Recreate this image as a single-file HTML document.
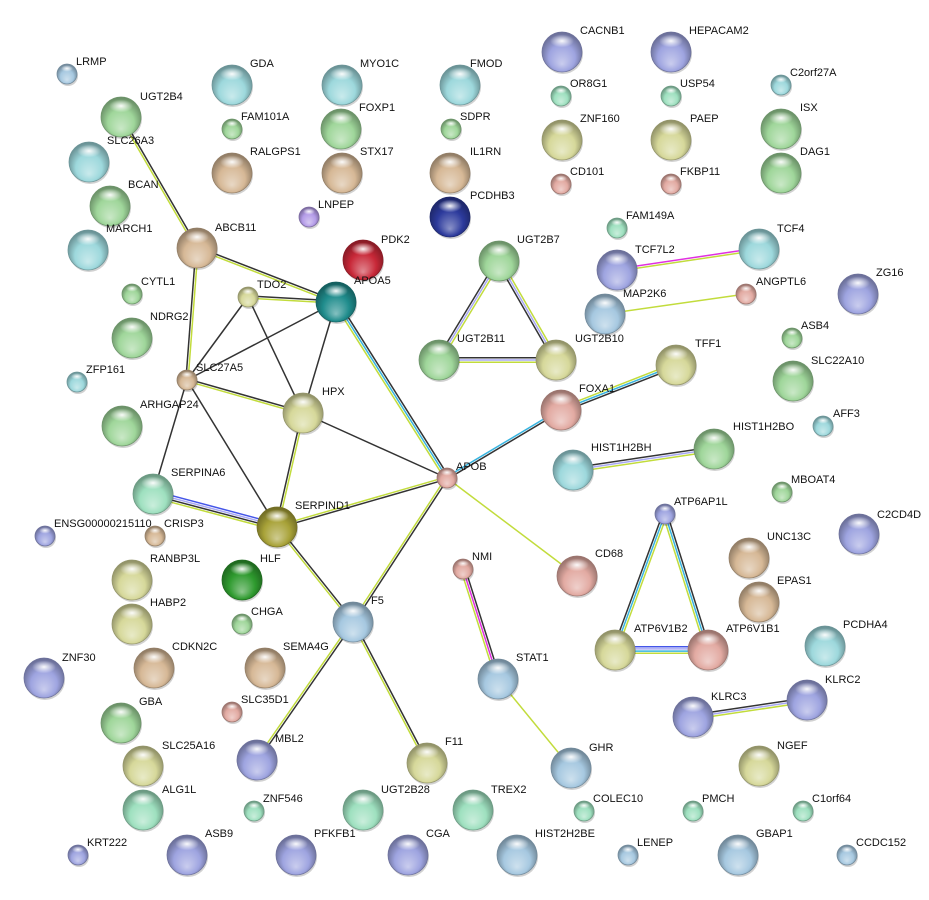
<!DOCTYPE html>
<html><head><meta charset="utf-8"><style>
html,body{margin:0;padding:0;background:#fff;}
svg{display:block;}
text{font-family:"Liberation Sans",Arial,sans-serif;font-size:11px;fill:#111;}
</style></head><body>
<svg id="s" width="929" height="900" viewBox="0 0 929 900" xmlns="http://www.w3.org/2000/svg">
<defs id="d"></defs>
<g id="edges"></g>
<g id="nodes"></g>
<g id="labels">
<text x="76" y="65">LRMP</text>
<text x="140" y="100">UGT2B4</text>
<text x="107" y="144">SLC26A3</text>
<text x="128" y="188">BCAN</text>
<text x="106" y="232">MARCH1</text>
<text x="250" y="67">GDA</text>
<text x="241" y="120">FAM101A</text>
<text x="250" y="155">RALGPS1</text>
<text x="360" y="67">MYO1C</text>
<text x="359" y="111">FOXP1</text>
<text x="360" y="155">STX17</text>
<text x="318" y="208">LNPEP</text>
<text x="381" y="243">PDK2</text>
<text x="354" y="284">APOA5</text>
<text x="215" y="231">ABCB11</text>
<text x="141" y="285">CYTL1</text>
<text x="257" y="288">TDO2</text>
<text x="150" y="320">NDRG2</text>
<text x="86" y="373">ZFP161</text>
<text x="196" y="371">SLC27A5</text>
<text x="322" y="395">HPX</text>
<text x="140" y="408">ARHGAP24</text>
<text x="470" y="67">FMOD</text>
<text x="460" y="120">SDPR</text>
<text x="470" y="155">IL1RN</text>
<text x="470" y="199">PCDHB3</text>
<text x="517" y="243">UGT2B7</text>
<text x="457" y="342">UGT2B11</text>
<text x="575" y="342">UGT2B10</text>
<text x="580" y="34">CACNB1</text>
<text x="689" y="34">HEPACAM2</text>
<text x="570" y="87">OR8G1</text>
<text x="680" y="87">USP54</text>
<text x="580" y="122">ZNF160</text>
<text x="690" y="122">PAEP</text>
<text x="570" y="175">CD101</text>
<text x="680" y="175">FKBP11</text>
<text x="790" y="76">C2orf27A</text>
<text x="800" y="111">ISX</text>
<text x="800" y="155">DAG1</text>
<text x="626" y="219">FAM149A</text>
<text x="635" y="253">TCF7L2</text>
<text x="777" y="232">TCF4</text>
<text x="623" y="297">MAP2K6</text>
<text x="756" y="285">ANGPTL6</text>
<text x="876" y="276">ZG16</text>
<text x="801" y="329">ASB4</text>
<text x="811" y="364">SLC22A10</text>
<text x="695" y="347">TFF1</text>
<text x="579" y="392">FOXA1</text>
<text x="833" y="417">AFF3</text>
<text x="733" y="430">HIST1H2BO</text>
<text x="591" y="451">HIST1H2BH</text>
<text x="456" y="470">APOB</text>
<text x="791" y="483">MBOAT4</text>
<text x="674" y="505">ATP6AP1L</text>
<text x="877" y="518">C2CD4D</text>
<text x="767" y="540">UNC13C</text>
<text x="595" y="557">CD68</text>
<text x="472" y="560">NMI</text>
<text x="777" y="584">EPAS1</text>
<text x="634" y="632">ATP6V1B2</text>
<text x="726" y="632">ATP6V1B1</text>
<text x="843" y="628">PCDHA4</text>
<text x="516" y="661">STAT1</text>
<text x="825" y="683">KLRC2</text>
<text x="711" y="700">KLRC3</text>
<text x="777" y="749">NGEF</text>
<text x="589" y="751">GHR</text>
<text x="491" y="793">TREX2</text>
<text x="593" y="802">COLEC10</text>
<text x="702" y="802">PMCH</text>
<text x="812" y="802">C1orf64</text>
<text x="535" y="837">HIST2H2BE</text>
<text x="637" y="846">LENEP</text>
<text x="756" y="837">GBAP1</text>
<text x="856" y="846">CCDC152</text>
<text x="171" y="476">SERPINA6</text>
<text x="54" y="527">ENSG00000215110</text>
<text x="164" y="527">CRISP3</text>
<text x="295" y="509">SERPIND1</text>
<text x="150" y="562">RANBP3L</text>
<text x="260" y="562">HLF</text>
<text x="150" y="606">HABP2</text>
<text x="251" y="615">CHGA</text>
<text x="371" y="604">F5</text>
<text x="172" y="650">CDKN2C</text>
<text x="283" y="650">SEMA4G</text>
<text x="62" y="661">ZNF30</text>
<text x="139" y="705">GBA</text>
<text x="241" y="703">SLC35D1</text>
<text x="275" y="742">MBL2</text>
<text x="162" y="749">SLC25A16</text>
<text x="445" y="745">F11</text>
<text x="162" y="793">ALG1L</text>
<text x="263" y="802">ZNF546</text>
<text x="381" y="793">UGT2B28</text>
<text x="87" y="846">KRT222</text>
<text x="205" y="837">ASB9</text>
<text x="314" y="837">PFKFB1</text>
<text x="426" y="837">CGA</text>
</g>
</svg>
<script>
var C={cy:'#9dd8dc',gr:'#9fd69a',tn:'#d6b896',bl:'#a6c8e0',lv:'#9ea4e0',ol:'#d6d89a',sa:'#e2aaa2',pu:'#b49ce8',rd:'#c82838',db:'#2c3a9c',td:'#1f8c8c',od:'#a8a238',dg:'#2e9a2e',mn:'#9ee0bf'};
var N={
LRMP:[67,74,10,'bl'],UGT2B4:[121,117,20,'gr'],SLC26A3:[89,162,20,'cy'],BCAN:[110,206,20,'gr'],MARCH1:[88,250,20,'cy'],
GDA:[232,85,20,'cy'],FAM101A:[232,129,10,'gr'],RALGPS1:[232,173,20,'tn'],MYO1C:[342,85,20,'cy'],FOXP1:[341,129,20,'gr'],STX17:[342,173,20,'tn'],
LNPEP:[309,217,10,'pu'],PDK2:[363,260,20,'rd'],APOA5:[336,302,20,'td'],ABCB11:[197,248,20,'tn'],CYTL1:[132,294,10,'gr'],TDO2:[248,297,10,'ol'],
NDRG2:[132,338,20,'gr'],ZFP161:[77,382,10,'cy'],SLC27A5:[187,380,10,'tn'],HPX:[303,413,20,'ol'],ARHGAP24:[122,426,20,'gr'],
FMOD:[460,85,20,'cy'],SDPR:[451,129,10,'gr'],IL1RN:[450,173,20,'tn'],PCDHB3:[450,217,20,'db'],UGT2B7:[499,261,20,'gr'],UGT2B11:[439,360,20,'gr'],UGT2B10:[556,360,20,'ol'],
CACNB1:[562,52,20,'lv'],HEPACAM2:[671,52,20,'lv'],OR8G1:[561,96,10,'mn'],USP54:[671,96,10,'mn'],ZNF160:[562,140,20,'ol'],PAEP:[671,140,20,'ol'],
CD101:[561,184,10,'sa'],FKBP11:[671,184,10,'sa'],C2orf27A:[781,85,10,'cy'],ISX:[781,129,20,'gr'],DAG1:[781,173,20,'gr'],FAM149A:[617,228,10,'mn'],
TCF7L2:[617,270,20,'lv'],TCF4:[759,249,20,'cy'],MAP2K6:[605,314,20,'bl'],ANGPTL6:[746,294,10,'sa'],ZG16:[858,294,20,'lv'],ASB4:[792,338,10,'gr'],
SLC22A10:[793,381,20,'gr'],TFF1:[676,365,20,'ol'],FOXA1:[561,410,20,'sa'],AFF3:[823,426,10,'cy'],HIST1H2BO:[714,449,20,'gr'],HIST1H2BH:[573,470,20,'cy'],
APOB:[447,478,10,'sa'],MBOAT4:[782,492,10,'gr'],ATP6AP1L:[665,514,10,'lv'],C2CD4D:[859,534,20,'lv'],UNC13C:[749,558,20,'tn'],CD68:[577,576,20,'sa'],
NMI:[463,569,10,'sa'],EPAS1:[759,602,20,'tn'],ATP6V1B2:[615,650,20,'ol'],ATP6V1B1:[708,650,20,'sa'],PCDHA4:[825,646,20,'cy'],STAT1:[498,679,20,'bl'],
KLRC2:[807,700,20,'lv'],KLRC3:[693,717,20,'lv'],NGEF:[759,766,20,'ol'],GHR:[571,768,20,'bl'],TREX2:[473,810,20,'mn'],COLEC10:[584,811,10,'mn'],
PMCH:[693,811,10,'mn'],C1orf64:[803,811,10,'mn'],HIST2H2BE:[517,855,20,'bl'],LENEP:[628,855,10,'bl'],GBAP1:[738,855,20,'bl'],CCDC152:[847,855,10,'bl'],
SERPINA6:[153,494,20,'mn'],ENSG:[45,536,10,'lv'],CRISP3:[155,536,10,'tn'],SERPIND1:[277,527,20,'od'],RANBP3L:[132,580,20,'ol'],HLF:[242,580,20,'dg'],
HABP2:[132,624,20,'ol'],CHGA:[242,624,10,'gr'],F5:[353,622,20,'bl'],CDKN2C:[154,668,20,'tn'],SEMA4G:[265,668,20,'tn'],ZNF30:[44,678,20,'lv'],
GBA:[121,723,20,'gr'],SLC35D1:[232,712,10,'sa'],MBL2:[257,760,20,'lv'],SLC25A16:[143,766,20,'ol'],F11:[427,763,20,'ol'],ALG1L:[143,810,20,'mn'],
ZNF546:[254,811,10,'mn'],UGT2B28:[363,810,20,'mn'],KRT222:[78,855,10,'lv'],ASB9:[187,855,20,'lv'],PFKFB1:[296,855,20,'lv'],CGA:[408,855,20,'lv']};
var K='#333',Y='#c2dc3c',B='#4455e8',L='#a8a8f4',Q='#38b4e0',M='#e030e0';
var E=[['UGT2B4','ABCB11',[K,Y]],['ABCB11','SLC27A5',[Y,K]],['ABCB11','APOA5',[K,Y]],['TDO2','APOA5',[K,Y]],['TDO2','SLC27A5',[K]],['TDO2','HPX',[K]],
['SLC27A5','APOA5',[K]],['APOA5','HPX',[K]],['APOA5','APOB',[K,Q,Y]],['SLC27A5','HPX',[K,Y]],['HPX','APOB',[K]],['SLC27A5','SERPINA6',[K]],['SLC27A5','SERPIND1',[K]],
['HPX','SERPIND1',[Y,K]],['SERPINA6','SERPIND1',[B,L,K,Y]],['SERPIND1','APOB',[Y,K]],['SERPIND1','F5',[K,Y]],['APOB','F5',[K,Y]],['F5','MBL2',[K,Y]],['F5','F11',[K,Y]],
['APOB','FOXA1',[Q,K]],['FOXA1','TFF1',[Y,Q,K]],['APOB','CD68',[Y]],['UGT2B7','UGT2B11',[Y,L,K]],['UGT2B7','UGT2B10',[Y,L,K]],['UGT2B11','UGT2B10',[K,L,Y]],
['TCF7L2','TCF4',[M,Y]],['MAP2K6','ANGPTL6',[Y]],['HIST1H2BH','HIST1H2BO',[K,L,Y]],['ATP6AP1L','ATP6V1B2',[Y,Q,K]],['ATP6AP1L','ATP6V1B1',[K,Q,Y]],
['ATP6V1B2','ATP6V1B1',[B,L,Q,Y]],['NMI','STAT1',[K,M,Y]],['STAT1','GHR',[Y]],['KLRC3','KLRC2',[K,L,Y]]];
var ns='http://www.w3.org/2000/svg';
function el(t,a,p){var e=document.createElementNS(ns,t);for(var k in a)e.setAttribute(k,a[k]);p.appendChild(e);return e;}
var d=document.getElementById('d'),eg=document.getElementById('edges'),ng=document.getElementById('nodes');
function shade(h,f){var n=parseInt(h.slice(1),16),r=n>>16,g=n>>8&255,b=n&255;
 if(f<0){r*=1+f;g*=1+f;b*=1+f;}else{r+=(255-r)*f;g+=(255-g)*f;b+=(255-b)*f;}
 return 'rgb('+Math.round(r)+','+Math.round(g)+','+Math.round(b)+')';}
for(var c in C){var g=el('radialGradient',{id:'g'+c,cx:'50%',cy:'55%',r:'55%',fx:'50%',fy:'80%'},d);
 el('stop',{offset:'0','stop-color':shade(C[c],0.45)},g);el('stop',{offset:'0.6','stop-color':C[c]},g);el('stop',{offset:'1','stop-color':shade(C[c],-0.35)},g);}
var hg=el('radialGradient',{id:'hl',cx:'50%',cy:'50%',r:'50%'},d);
el('stop',{offset:'0','stop-color':'#fff','stop-opacity':'0.95'},hg);el('stop',{offset:'1','stop-color':'#fff','stop-opacity':'0'},hg);
E.forEach(function(e){var a=N[e[0]],b=N[e[1]],dx=b[0]-a[0],dy=b[1]-a[1],l=Math.hypot(dx,dy),px=-dy/l,py=dx/l,n=e[2].length,sp=2.2;
 e[2].forEach(function(col,i){var o=(i-(n-1)/2)*sp;
  el('line',{x1:a[0]+px*o,y1:a[1]+py*o,x2:b[0]+px*o,y2:b[1]+py*o,stroke:col,'stroke-width':1.5},eg);});});
for(var k in N){var v=N[k],x=v[0],y=v[1],r=v[2];
 el('ellipse',{cx:x+1,cy:y+2,rx:r,ry:r,fill:'#000',opacity:0.18},ng);
 el('circle',{cx:x,cy:y,r:r,fill:'url(#g'+v[3]+')',stroke:shade(C[v[3]],-0.3),'stroke-width':0.8},ng);
 el('ellipse',{cx:x,cy:y-r*0.55,rx:r*0.6,ry:r*0.32,fill:'url(#hl)'},ng);}
</script>
</body></html>
